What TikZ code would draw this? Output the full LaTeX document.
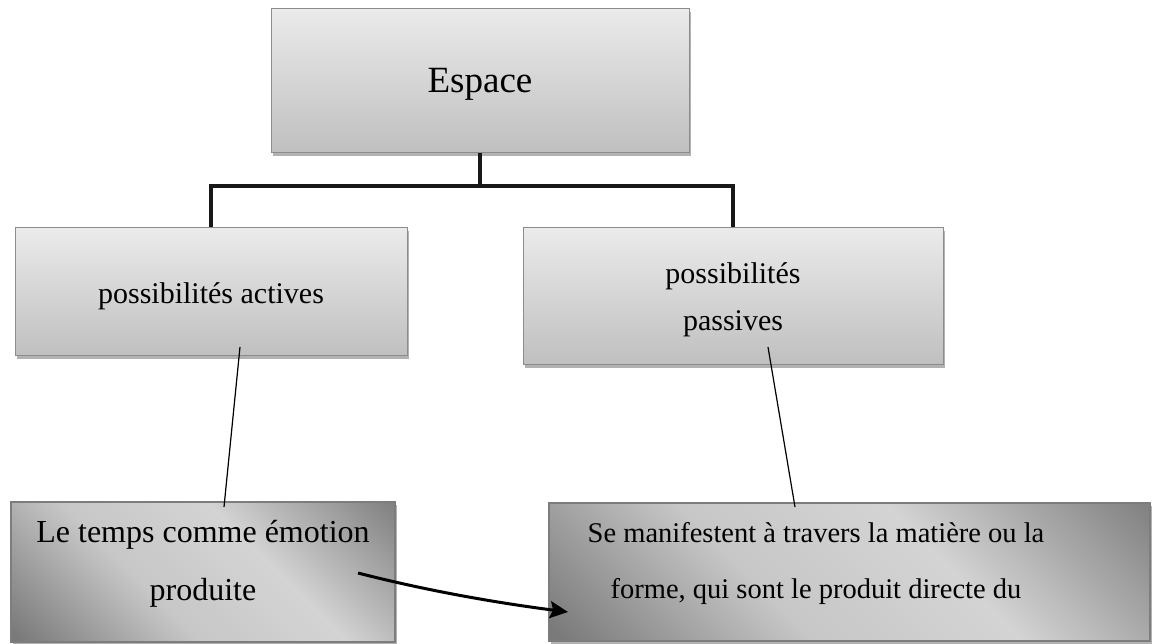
\documentclass[tikz,border=0pt]{standalone}
\usepackage{fontspec}
\setmainfont{Liberation Serif}
\usepackage{tikz}
\usetikzlibrary{positioning, arrows.meta, shadows, calc}
\usepackage{xcolor}
\definecolor{framegray}{RGB}{140, 140, 140}
\definecolor{lowframe}{RGB}{125, 125, 125}
\definecolor{linkblack}{RGB}{24, 24, 24}
\pgfdeclarehorizontalshading{cornerdark}{100bp}{color(0bp)=(black!60); color(16bp)=(black!52); color(40bp)=(black!22); color(60bp)=(black!17); color(84bp)=(black!48); color(100bp)=(black!58)}

\begin{document}
\begin{tikzpicture}[x=1pt, y=-1pt,
  midbox/.style={draw=framegray, line width=1pt, top color=black!8, bottom color=black!25,
    drop shadow={shadow xshift=2pt, shadow yshift=-3pt, opacity=0.3, fill=black}},
  lowbox/.style={draw=lowframe, line width=2pt, shading=cornerdark, shading angle=45,
    drop shadow={shadow xshift=2pt, shadow yshift=-3pt, opacity=0.3, fill=black}},
  boxtext/.style={align=center, inner sep=0pt},
  trunk/.style={draw=linkblack, line width=4pt},
  thinline/.style={draw=black, line width=1.2pt},
  link/.style={draw=black, line width=3pt, -{Stealth[length=18pt, width=17pt, inset=3pt]}}]
\useasboundingbox (0,0) rectangle (1152,644);

% boxes
\node[midbox, minimum width=418pt, minimum height=144pt] (espace) at (480,81) {};
\node[midbox, minimum width=392pt, minimum height=128pt] (act) at (211,292) {};
\node[midbox, minimum width=420pt, minimum height=137pt] (pas) at (733,296.5) {};
\node[lowbox, minimum width=384pt, minimum height=140pt] (temps) at (203,572) {};
\node[lowbox, minimum width=601pt, minimum height=138pt] (matiere) at (849.5,572) {};

% texts
\node[boxtext, font=\fontsize{37}{44}\selectfont] (espacetxt) at ($(espace.center)+(0,3.5)$) {Espace};
\node[boxtext, font=\fontsize{30}{47}\selectfont] (acttxt) at ($(act.center)+(0,4)$) {possibilités actives};
\node[boxtext, font=\fontsize{30}{47}\selectfont] (pastxt) at ($(pas.center)+(0,3)$) {possibilités\\passives};
\node[boxtext, font=\fontsize{32}{58}\selectfont] (tempstxt) at ($(temps.center)+(0,-8.5)$) {Le temps comme émotion\\produite};
\node[boxtext, font=\fontsize{28.5}{56}\selectfont] (matieretxt) at ($(matiere.center)+(-33.5,-8.8)$) {Se manifestent à travers la matière ou la\\forme, qui sont le produit directe du};

% tree
\coordinate (fork) at (480,186);
\draw[trunk] (espace.south) -- (fork);
\draw[trunk] (act.north) |- (fork) -| (pas.north);

% thin links
\coordinate (actfoot) at (240,347);
\coordinate (tempshead) at (224,507);
\coordinate (pasfoot) at (768,347);
\coordinate (matierehead) at (795,507);
\draw[thinline] (actfoot) -- (tempshead);
\draw[thinline] (pasfoot) -- (matierehead);

% arrow
\coordinate (emostart) at (358,573);
\coordinate (matarrow) at (568,612);
\draw[link] (emostart) .. controls +(70,18) and +(-70,-9) .. (matarrow);
\end{tikzpicture}
\end{document}
